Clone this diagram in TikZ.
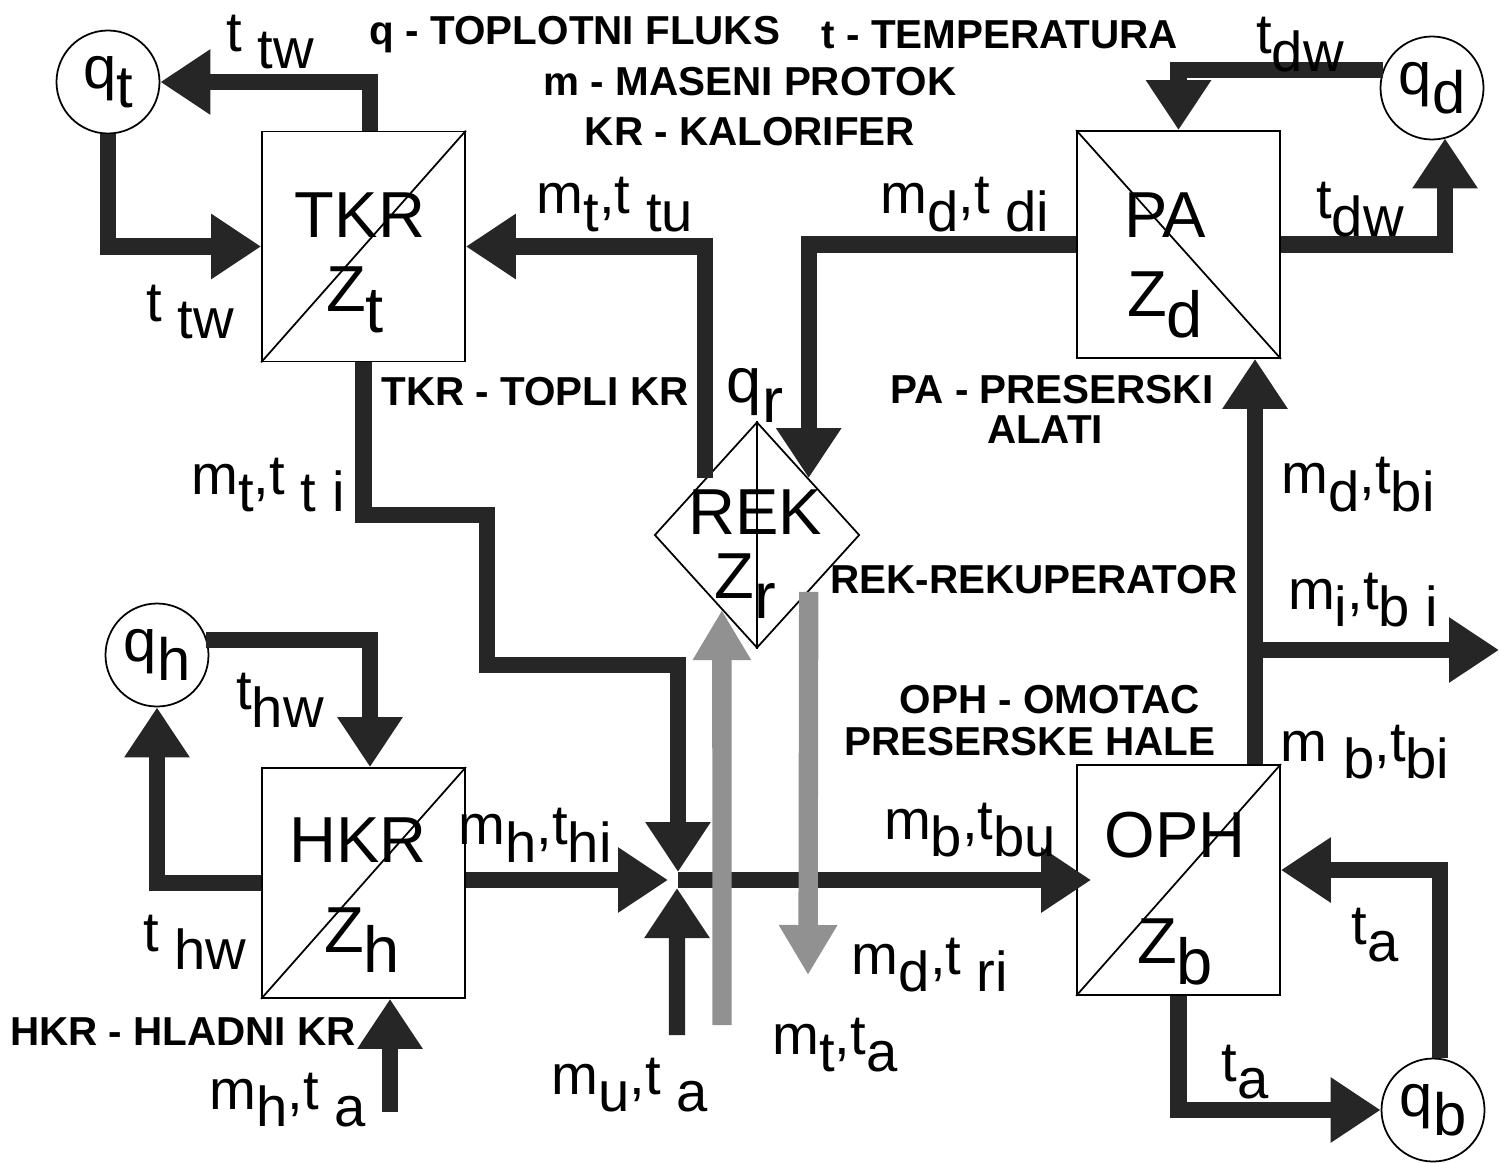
\documentclass[tikz,border=0pt]{standalone}
\usepackage{fontspec}
\setmainfont{Liberation Sans}
\usetikzlibrary{
    arrows.meta,
    positioning,
    shapes.geometric,
    calc
}
\definecolor{FlowBlack}{RGB}{38,38,38}
\definecolor{FlowGray}{RGB}{145,145,145}
\newcommand{\lowr}[1]{\raisebox{-0.6ex}{#1}}

\tikzset{
    block/.style={draw, line width=0.5pt, minimum width=2.03cm,
        minimum height=2.3cm, inner sep=0pt},
    source/.style={circle, draw, line width=0.5pt, minimum size=1.03cm,
        inner sep=0pt, font=\fontsize{17}{19}\selectfont},
    boxtxt/.style={font=\fontsize{18.5}{21}\selectfont, inner sep=0pt},
    lbl/.style={font=\fontsize{16}{18}\selectfont, inner sep=1pt},
    legend/.style={font=\bfseries\fontsize{11.5}{13}\selectfont, inner sep=1pt},
    flow/.style={line width=4.6pt, draw=FlowBlack,
        -{Triangle[width=0.62cm,length=0.5cm]}},
    gflow/.style={line width=5.5pt, draw=FlowGray,
        -{Triangle[width=0.55cm,length=0.5cm]}}
}

\begin{document}
\begin{tikzpicture}

\useasboundingbox (0,0) rectangle (14.99,11.62);

\node[block] (tkr) at (3.635,9.155) {};
\node[block, minimum height=2.27cm] (pa) at (11.785,9.175) {};
\node[block] (hkr) at (3.635,2.79) {};
\node[block] (oph) at (11.785,2.82) {};
\node[diamond, draw, line width=0.5pt, minimum width=2.05cm,
    minimum height=2.26cm, inner sep=0pt] (rek) at (7.57,6.27) {};

\draw[line width=0.5pt] (tkr.south west) -- (tkr.north east);
\draw[line width=0.5pt] (pa.north west) -- (pa.south east);
\draw[line width=0.5pt] (hkr.south west) -- (hkr.north east);
\draw[line width=0.5pt] (oph.south west) -- (oph.north east);
\draw[line width=0.5pt] (rek.north) -- (rek.south);

\node[boxtxt] (tkrname) at (3.60,9.47) {TKR};
\node[boxtxt] (tkrz) at (3.55,8.62) {Z\lowr{t}};
\node[boxtxt] (paname) at (11.65,9.47) {PA};
\node[boxtxt] (paz) at (11.65,8.57) {Z\lowr{d}};
\node[boxtxt] (hkrname) at (3.58,3.22) {HKR};
\node[boxtxt] (hkrz) at (3.62,2.22) {Z\lowr{h}};
\node[boxtxt] (ophname) at (11.75,3.27) {OPH};
\node[boxtxt] (ophz) at (11.75,2.10) {Z\lowr{b}};
\node[boxtxt] (rekname) at (7.55,6.50) {REK};
\node[boxtxt] (rekz) at (7.45,5.76) {Z\lowr{r}};

\node[source] (qt) at (1.08,10.80) {q\lowr{t}};
\node[source] (qd) at (14.32,10.74) {q\lowr{d}};
\node[source] (qh) at (1.57,5.07) {q\lowr{h}};
\node[source] (qb) at (14.33,0.52) {q\lowr{b}};

\coordinate (mix) at (6.78,2.82);
\coordinate (split) at (12.55,5.12);
\coordinate (miout) at (14.99,5.12);
\coordinate (muin) at (6.77,1.27);
\coordinate (mhin) at (3.90,0.50);
\coordinate (mtin) at (7.22,1.37);
\coordinate (mdout) at (8.08,1.87);

\draw[flow]
    ($(tkr.north)+(0.065,0)$) |- (qt.east);
\draw[flow]
    (qt.south) |- (tkr.west);
\draw[flow]
    ($(rek.north)!0.5!(rek.west)$) |- (tkr.east);
\draw[flow]
    (pa.west) -| ($(rek.north)!0.5!(rek.east)$);
\draw[flow]
    ($(qd.center)+(-0.49,0.18)$) -| (pa.north);
\draw[flow]
    (pa.east) -| ($(qd.south)+(0.13,0.02)$);
\draw[flow]
    (tkr.south) -- ++(0,-1.53) -| (4.87,4.97) -| ($(mix)+(0,0.08)$);
\draw[flow]
    ($(qh.center)+(0.49,0.15)$) -| ($(hkr.north)+(0.065,0)$);
\draw[flow]
    (hkr.west) -| (qh.south);
\draw[flow]
    (hkr.east |- mix) -- ($(mix)+(-0.1,0)$);
\draw[flow]
    (mix) -- ($(oph.west)+(0.15,0)$);
\draw[flow]
    (muin) -- ($(mix)+(-0.01,-0.08)$);
\draw[flow]
    (mhin) -- (mhin |- hkr.south);
\draw[gflow]
    (mtin) -- ($(rek.west)!0.66!(rek.south)$);
\draw[gflow]
    ($(rek.east)!0.5!(rek.south)$) -- (mdout);
\draw[flow]
    ($(oph.north)+(0.765,0)$) -- ($(pa.south)+(0.765,0)$);
\draw[flow]
    (split) -- (miout);
\draw[flow]
    ($(qb.north)+(0.07,0)$) |- ($(oph.east)+(0,0.1)$);
\draw[flow]
    (oph.south) |- (qb.west);

\node[legend] (lgq) at (5.75,11.27) {q - TOPLOTNI FLUKS};
\node[legend] (lgt) at (10.00,11.27) {t - TEMPERATURA};
\node[legend] (lgm) at (7.50,10.80) {m - MASENI PROTOK};
\node[legend] (lgkr) at (7.50,10.30) {KR - KALORIFER};
\node[legend] (lgtkr) at (5.35,7.70) {TKR - TOPLI KR};
\node[legend] (lgpa) at (10.52,7.72) {PA - PRESERSKI};
\node[legend] (lgpb) at (10.45,7.32) {ALATI};
\node[legend] (lgrek) at (10.34,5.82) {REK-REKUPERATOR};
\node[legend] (lgoph) at (10.50,4.62) {OPH - OMOTAC};
\node[legend] (lgoph2) at (10.30,4.20) {PRESERSKE HALE};
\node[legend] (lghkr) at (1.83,1.30) {HKR - HLADNI KR};

\node[lbl] (lttwa) at (2.70,11.20) {t\lowr{ tw}};
\node[lbl] (lttwb) at (1.90,8.50) {t\lowr{ tw}};
\node[lbl] (lmttu) at (6.15,9.57) {m\lowr{t},t\lowr{ tu}};
\node[lbl] (lmdtdi) at (9.65,9.57) {m\lowr{d},t\lowr{ di}};
\node[lbl] (ltdwa) at (13.00,11.17) {t\lowr{dw}};
\node[lbl] (ltdwb) at (13.60,9.52) {t\lowr{dw}};
\node[lbl, font=\fontsize{18}{20}\selectfont] (lqr) at (7.55,7.67) {q\lowr{r}};
\node[lbl] (lmttti) at (2.68,6.77) {m\lowr{t},t\lowr{ t i}};
\node[lbl] (lmdtbi) at (13.58,6.77) {m\lowr{d},t\lowr{bi}};
\node[lbl] (lmitbi) at (13.63,5.62) {m\lowr{i},t\lowr{b i}};
\node[lbl] (lmbtbi) at (13.65,4.10) {m\lowr{ b},t\lowr{bi}};
\node[lbl] (lthwa) at (2.80,4.62) {t\lowr{hw}};
\node[lbl] (lmhthi) at (5.35,3.27) {m\lowr{h},t\lowr{hi}};
\node[lbl] (lmbtbu) at (9.70,3.32) {m\lowr{b},t\lowr{bu}};
\node[lbl] (lthwb) at (1.95,2.20) {t\lowr{ hw}};
\node[lbl] (ltaa) at (13.75,2.27) {t\lowr{a}};
\node[lbl] (lmdtri) at (9.30,1.97) {m\lowr{d},t\lowr{ ri}};
\node[lbl] (lmuta) at (6.30,0.77) {m\lowr{u},t\lowr{ a}};
\node[lbl] (lmtta) at (8.35,1.17) {m\lowr{t},t\lowr{a}};
\node[lbl] (lmhta) at (2.88,0.62) {m\lowr{h},t\lowr{ a}};
\node[lbl] (ltab) at (12.45,0.90) {t\lowr{a}};

\end{tikzpicture}
\end{document}
